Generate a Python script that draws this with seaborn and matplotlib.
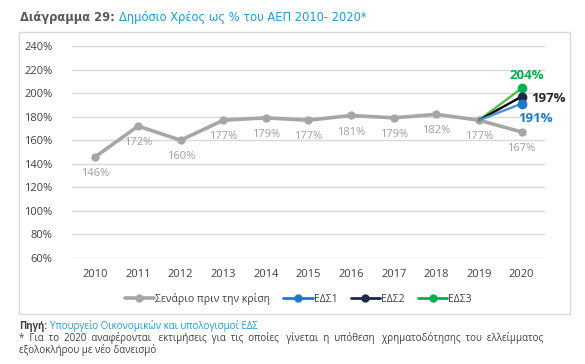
import pandas as pd
import seaborn as sns
import matplotlib.pyplot as plt
from matplotlib.patches import Rectangle
from matplotlib.lines import Line2D

years = ["2010", "2011", "2012", "2013", "2014", "2015", "2016", "2017", "2018", "2019", "2020"]
base = [146, 172, 160, 177, 179, 177, 181, 179, 182, 177, 167]
eds_years = ["2019", "2020"]
eds1 = [177, 191]
eds2 = [177, 197]
eds3 = [177, 204]
names = ["Σενάριο πριν την κρίση", "ΕΔΣ1", "ΕΔΣ2", "ΕΔΣ3"]
colors = ["#a6a6a6", "#1f78c8", "#1c2a4a", "#00b050"]
line_colors = ["#a6a6a6", "#4a8fd4", "#000000", "#5db84a"]

sns.set_style("white")
plt.rcParams["font.family"] = ["Open Sans", "DejaVu Sans"]

fig = plt.figure(figsize=(5.85, 3.64), dpi=100)
ax = fig.add_axes([72 / 585, 1 - 258 / 364, 473 / 585, 212 / 364])

x = list(range(len(years)))
xe = [years.index(y) for y in eds_years]

sns.lineplot(x=x, y=base, ax=ax, color=line_colors[0], lw=2.6, marker="o",
             markersize=6, markeredgewidth=0, zorder=3)
for vals, lc, mc in [(eds3, line_colors[3], colors[3]), (eds2, line_colors[2], colors[2]),
                     (eds1, line_colors[1], colors[1])]:
    ax.plot(xe, vals, color=lc, lw=1.7, zorder=4)
    ax.plot(xe[1:], vals[1:], "o", color=mc, markersize=6, zorder=5)

ax.set_ylim(60, 240)
ax.set_yticks(range(60, 241, 20))
ax.set_yticklabels([f"{v}%" for v in range(60, 241, 20)])
ax.set_xlim(-0.55, 10.55)
ax.set_xticks(x)
ax.set_xticklabels(years)
ax.grid(axis="y", color="#d9d9d9", lw=1)
ax.set_axisbelow(True)
for s in ax.spines.values():
    s.set_visible(False)
ax.tick_params(axis="both", length=0, labelsize=8, colors="#404040", pad=8)
ax.tick_params(axis="y", pad=14)

for i, v in enumerate(base):
    ax.annotate(f"{v}%", (i, v), xytext=(0, -12), textcoords="offset points",
                ha="center", va="center", fontsize=8, color="#a0a0a0")

ax.annotate(f"{eds3[1]}%", (xe[1], eds3[1]), xytext=(4, 9), textcoords="offset points",
            ha="center", va="center", fontsize=9.5, fontweight="bold", color=colors[3])
ax.annotate(f"{eds2[1]}%", (xe[1], eds2[1]), xytext=(7, -1), textcoords="offset points",
            ha="left", va="center", fontsize=9.5, fontweight="bold", color="#262626")
ax.annotate(f"{eds1[1]}%", (xe[1], eds1[1]), xytext=(10, -11), textcoords="offset points",
            ha="center", va="center", fontsize=9.5, fontweight="bold", color=colors[1])

handles = [Line2D([], [], color=c, lw=2.6 if i == 0 else 2, marker="o", markersize=5)
           for i, c in enumerate(colors)]
fig.legend(handles, names, loc="center", bbox_to_anchor=(0.51, 1 - 299 / 364), ncol=4,
           frameon=False, fontsize=7.5, handlelength=2.8, columnspacing=1.3,
           handletextpad=0.1, labelcolor="#404040")

fig.patches.append(Rectangle((19 / 585, 1 - 314 / 364), 551 / 585, 282 / 364,
                             transform=fig.transFigure, fill=False, ec="#d9d9d9", lw=1))

# title in two colours
fig.canvas.draw()
r = fig.canvas.get_renderer()
t1 = fig.text(20 / 585, 1 - 18 / 364, "Διάγραμμα 29:", fontsize=8.3, fontweight="bold",
              color="#595959", va="center", family="DejaVu Sans")
bb = t1.get_window_extent(r)
fig.text(bb.x1 / 585 + 0.007, 1 - 18 / 364, "Δημόσιο Χρέος ως % του ΑΕΠ 2010- 2020*",
         fontsize=8.3, color="#1f9bd6", va="center", family="DejaVu Sans")

t2 = fig.text(19 / 585, 1 - 326 / 364, "Πηγή:", fontsize=7, fontweight="bold",
              color="#404040", va="center")
bb = t2.get_window_extent(r)
fig.text(bb.x1 / 585 + 0.005, 1 - 326 / 364, "Υπουργείο Οικονομικών και υπολογισμοί ΕΔΣ",
         fontsize=7, color="#1f9bd6", va="center")
fig.text(19 / 585, 1 - 338 / 364,
         "*  Για  το  2020  αναφέρονται   εκτιμήσεις  για  τις  οποίες   γίνεται  η  υπόθεση   "
         "χρηματοδότησης  του  ελλείμματος",
         fontsize=7, color="#404040", va="center")
fig.text(19 / 585, 1 - 350 / 364, "εξολοκλήρου με νέο δανεισμό",
         fontsize=7, color="#404040", va="center")

fig.savefig("out.png", dpi=100)
